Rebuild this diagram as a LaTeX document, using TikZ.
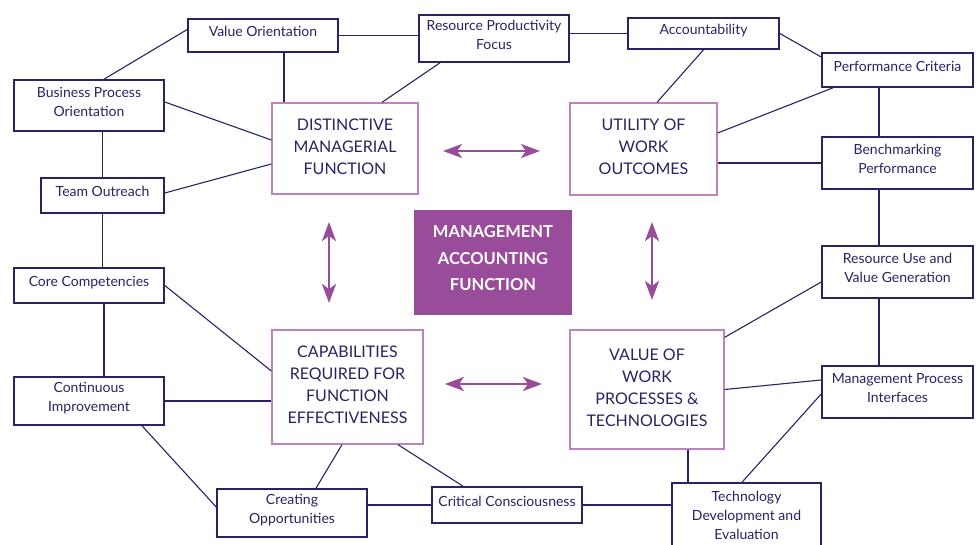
\documentclass[tikz,border=0pt]{standalone}
\usepackage{fontspec}
\setmainfont{Lato}
\usetikzlibrary{arrows.meta}
\definecolor{navy}{HTML}{2B2163}
\definecolor{plum}{HTML}{994C9A}
\definecolor{lilac}{HTML}{BC84BD}
\begin{document}
\begin{tikzpicture}[x=1pt,y=-1pt]
          \useasboundingbox (0,0) rectangle (979,545);
          \clip (0,0) rectangle (979,545);
          \tikzstyle{every node} = [draw=navy, line width=1.6pt, text=navy, align=center, inner sep=0pt, text depth=8pt, font=\fontsize{14}{19}\selectfont];
          \tikzstyle{core} = [draw=lilac, line width=1.3pt, text depth=4.5pt, font=\fontsize{16}{22}\selectfont];
          \tikzstyle{link} = [navy, line width=1.1pt];
          \tikzstyle{twoway} = [plum, line width=2.6pt, {Stealth[length=19pt,width=14pt,inset=5pt]}-{Stealth[length=19pt,width=14pt,inset=5pt]}];
          % outer ring
          \node[minimum width=150pt, minimum height=33pt](vo) at (263,35.5) {Value Orientation};
          \node[minimum width=150pt, minimum height=47pt](rpf) at (494,38.5) {Resource Productivity\\Focus};
          \node[minimum width=151pt, minimum height=31pt](acc) at (703.5,33.5) {Accountability};
          \node[minimum width=151pt, minimum height=34pt](pc) at (897.5,70) {Performance Criteria};
          \node[minimum width=150pt, minimum height=51pt](bpo) at (89,105.5) {Business Process\\Orientation};
          \node[minimum width=151pt, minimum height=52pt](bp) at (897.5,163) {Benchmarking\\Performance};
          \node[minimum width=123pt, minimum height=35pt](to) at (102.5,195.5) {Team Outreach};
          \node[minimum width=151pt, minimum height=52pt](ruvg) at (897.5,272) {Resource Use and\\Value Generation};
          \node[minimum width=150pt, minimum height=35pt](cc) at (89,285.5) {Core Competencies};
          \node[minimum width=151pt, minimum height=52pt](mpi) at (897.5,392) {Management Process\\Interfaces};
          \node[minimum width=150pt, minimum height=48pt](ci) at (89,401) {Continuous\\Improvement};
          \node[minimum width=150pt, minimum height=48pt](co) at (292,513) {Creating\\Opportunities};
          \node[minimum width=150pt, minimum height=36pt](ccn) at (507,505) {Critical Consciousness};
          \node[minimum width=149pt, minimum height=72pt](tde) at (746.5,519) {Technology\\Development and\\Evaluation};
          % inner four
          \node[core, minimum width=146pt, minimum height=91pt](dmf) at (345,148.5) {DISTINCTIVE\\MANAGERIAL\\FUNCTION};
          \node[core, minimum width=147pt, minimum height=92pt](uwo) at (643.5,149) {UTILITY OF\\WORK\\OUTCOMES};
          \node[core, minimum width=151pt, minimum height=114pt](crf) at (347.5,387) {CAPABILITIES\\REQUIRED FOR\\FUNCTION\\EFFECTIVENESS};
          \node[core, minimum width=154pt, minimum height=119pt](vwp) at (647,389.5) {VALUE OF\\WORK\\PROCESSES \&\\TECHNOLOGIES};
          \node[draw=none, fill=plum, text=white, minimum width=158pt, minimum height=105pt, text depth=9pt, font=\fontsize{16.5}{26.5}\selectfont\bfseries](maf) at (493,262.5) {MANAGEMENT\\ACCOUNTING\\FUNCTION};
          \coordinate (h1a) at (443,151);
          \coordinate (h1b) at (540,151);
          \coordinate (h2a) at (445,384);
          \coordinate (h2b) at (542,384);
          \coordinate (v1a) at (329,222);
          \coordinate (v1b) at (329,303);
          \coordinate (v2a) at (652,222);
          \coordinate (v2b) at (652,300);
          \tikzstyle{every node} = []
          \draw[twoway] (h1a) -- (h1b);
          \draw[twoway] (h2a) -- (h2b);
          \draw[twoway] (v1a) -- (v1b);
          \draw[twoway] (v2a) -- (v2b);
          % connectors
          \path[link]
          ([yshift=6pt]vo.west) edge ([xshift=15pt]bpo.north);
          \path[link]
          (vo.east) edge (vo.east -| rpf.west);
          \path[link]
          ([xshift=21pt]vo.south) edge ([xshift=-61pt]dmf.north);
          \path[link]
          ([xshift=-54pt]rpf.south) edge ([xshift=37pt]dmf.north);
          \path[link]
          ([yshift=3.5pt]bpo.east) edge ([yshift=8.5pt]dmf.west);
          \path[link]
          ([yshift=2.5pt]to.east) edge ([yshift=-15.5pt]dmf.west);
          \path[link]
          (to.north |- bpo.south) edge (to.north);
          \path[link]
          (to.south) edge (to.south |- cc.north);
          \path[link]
          ([xshift=15pt]cc.south) edge ([xshift=15pt]ci.north);
          \path[link]
          (acc.west -| rpf.east) edge (acc.west);
          \path[link]
          (acc.south) edge ([xshift=13.5pt]uwo.north);
          \path[link]
          (acc.east) edge ([yshift=13pt]pc.west);
          \path[link]
          ([xshift=-64.5pt]pc.south) edge ([yshift=16pt]uwo.east);
          \path[link]
          (uwo.east |- bp.west) edge (bp.west);
          \path[link]
          ([xshift=-18.5pt]pc.south) edge ([xshift=-18.5pt]bp.north);
          \path[link]
          ([xshift=-18.5pt]bp.south) edge ([xshift=-18.5pt]ruvg.north);
          \path[link]
          ([xshift=-18.5pt]ruvg.south) edge ([xshift=-18.5pt]mpi.north);
          \path[link]
          ([yshift=-10pt]ruvg.west) edge ([yshift=-8pt]vwp.north east);
          \path[link]
          (vwp.east) edge ([yshift=12pt]mpi.west);
          \path[link]
          ([yshift=-2pt]mpi.west) edge ([xshift=-4.5pt]tde.north);
          \path[link]
          ([xshift=41pt]vwp.south) edge ([xshift=-58.5pt]tde.north);
          \path[link]
          (ccn.east) edge (ccn.east -| tde.west);
          \path[link]
          (co.east |- ccn.west) edge (ccn.west);
          \path[link]
          ([xshift=-5.5pt]crf.south) edge ([xshift=24pt]co.north);
          \path[link]
          ([xshift=50.5pt]crf.south) edge ([xshift=-44pt]ccn.north);
          \path[link]
          ([xshift=53pt]ci.south) edge ([yshift=6pt]co.west);
          \path[link]
          (ci.east) edge (ci.east -| crf.west);
          \path[link]
          (cc.east) edge ([yshift=16pt]crf.west);
\end{tikzpicture}
\end{document}
